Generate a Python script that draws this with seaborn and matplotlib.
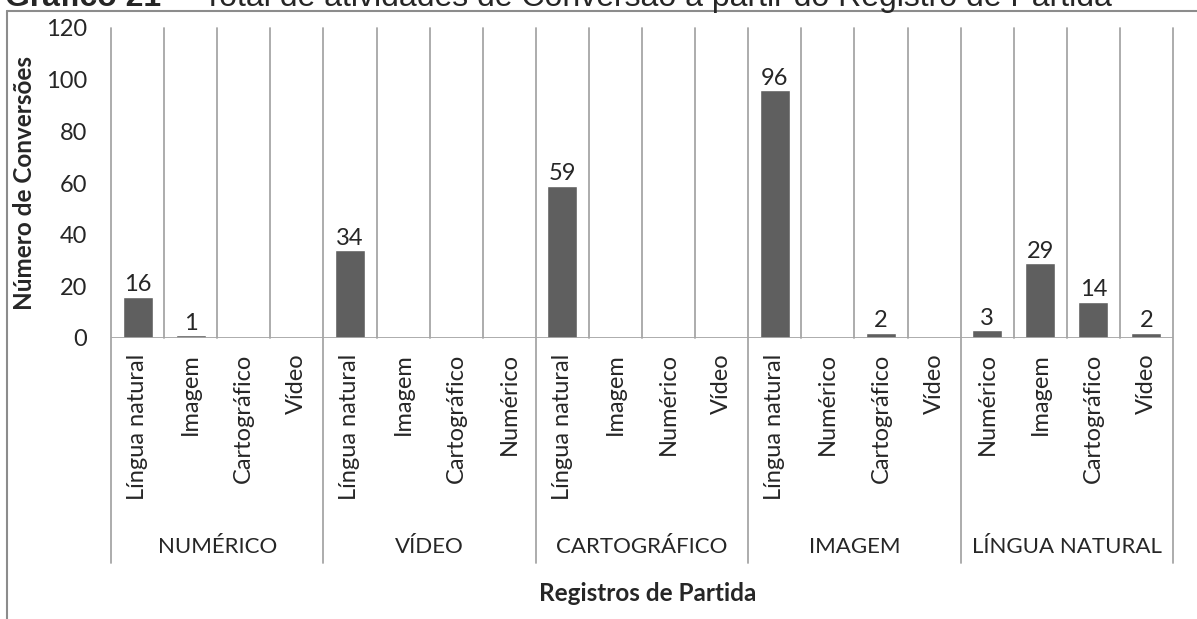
import matplotlib
matplotlib.use("Agg")
import matplotlib.pyplot as plt
import matplotlib.transforms as mtransforms
from matplotlib.lines import Line2D
import pandas as pd
import seaborn as sns

# data
groups = ["NUMÉRICO", "VÍDEO", "CARTOGRÁFICO", "IMAGEM", "LÍNGUA NATURAL"]
leaves = [
    ["Língua natural", "Imagem", "Cartográfico", "Vídeo"],
    ["Língua natural", "Imagem", "Cartográfico", "Numérico"],
    ["Língua natural", "Imagem", "Numérico", "Vídeo"],
    ["Língua natural", "Numérico", "Cartográfico", "Vídeo"],
    ["Numérico", "Imagem", "Cartográfico", "Vídeo"],
]
values = [
    [16, 1, 0, 0],
    [34, 0, 0, 0],
    [59, 0, 0, 0],
    [96, 0, 2, 0],
    [3, 29, 14, 2],
]
y_ticks = [0, 20, 40, 60, 80, 100, 120]

rows = []
for g, lv, vals in zip(groups, leaves, values):
    for leaf, v in zip(lv, vals):
        rows.append({"key": f"{g}|{leaf}", "group": g, "leaf": leaf, "value": v})
df = pd.DataFrame(rows)

sns.set_theme(style="white")
plt.rcParams["font.family"] = ["Lato", "DejaVu Sans"]

W, H = 1197, 619
fig = plt.figure(figsize=(W / 100, H / 100), dpi=100)
ax = fig.add_axes([111 / W, 1 - 338 / H, (1173 - 111) / W, (338 - 28) / H])

bar_color = "#5f5f5f"
sns.barplot(data=df, x="key", y="value", order=df["key"].tolist(),
            color=bar_color, width=0.565, saturation=1, ax=ax, errorbar=None)

ax.set_ylim(0, 120)
ax.set_xlim(-0.5, len(df) - 0.5)
ax.set_yticks(y_ticks)
ax.tick_params(axis="y", length=0, pad=17, labelsize=17)
ax.tick_params(axis="x", length=0, pad=11, labelsize=17)
ax.set_xticks(range(len(df)))
ax.set_xticklabels(df["leaf"], rotation=90, va="top", ha="center")
for s in ax.spines.values():
    s.set_visible(False)
ax.set_xlabel("")
ax.set_ylabel("")

grid_c = "#a6a6a6"
trans = mtransforms.blended_transform_factory(ax.transData, ax.transAxes)
n = len(df)
for i in range(n + 1):
    x = i - 0.5
    y0 = -0.726 if i % 4 == 0 else 0
    ax.add_line(Line2D([x, x], [y0, 1], transform=trans, color=grid_c,
                       lw=1.3, clip_on=False, zorder=0))
ax.axhline(0, color=grid_c, lw=1.3, zorder=3)

# value labels, only for non-zero bars
labels = [str(v) if v else "" for v in df["value"]]
ax.bar_label(ax.containers[0], labels=labels, padding=1, fontsize=17)

# group labels under the leaves
for gi, g in enumerate(groups):
    ax.text(gi * 4 + 1.5, -0.674, g, transform=trans, ha="center",
            va="center", fontsize=16)

ax.text(0.505, -0.823, "Registros de Partida", transform=ax.transAxes,
        ha="center", va="center", fontsize=17.5, fontweight="bold")
fig.text(25 / W, 1 - 183 / H, "Número de Conversões", rotation=90,
         ha="center", va="center", fontsize=17.5, fontweight="bold")

# outer chart frame (cut at the right and bottom edges)
frame_c = "#8c8c8c"
fig.add_artist(Line2D([7 / W, 1.0], [1 - 11 / H, 1 - 11 / H],
                      transform=fig.transFigure, color=frame_c, lw=1.5))
fig.add_artist(Line2D([7 / W, 7 / W], [0, 1 - 11 / H],
                      transform=fig.transFigure, color=frame_c, lw=1.5))

# caption, partly cut off at the top of the picture
cap_y = 1 - 6 / H
fig.text(5 / W, cap_y, "Gráfico 21", ha="left", va="baseline",
         fontsize=23, fontweight="bold", family=["Liberation Sans"])
fig.text(168 / W, cap_y, "–", ha="left", va="baseline",
         fontsize=23, family=["Liberation Sans"])
fig.text(203 / W, cap_y,
         "Total de atividades de Conversão a partir do Registro de Partida",
         ha="left", va="baseline", fontsize=23, family=["Liberation Sans"])

fig.savefig("out.png", dpi=100)
